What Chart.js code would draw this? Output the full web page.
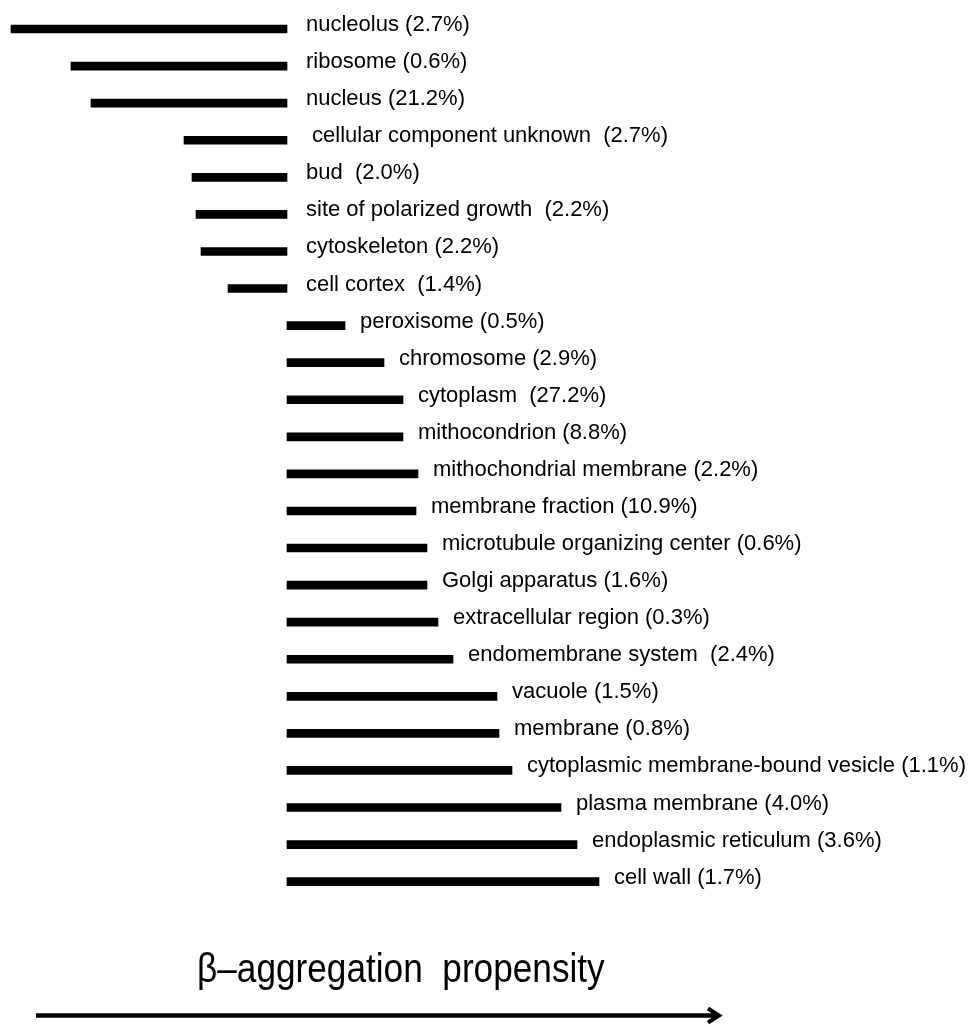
<!DOCTYPE html>
<html>
<head>
<meta charset="utf-8">
<script src="https://cdn.jsdelivr.net/npm/chart.js@4.4.1/dist/chart.umd.min.js"></script>
<style>
  html, body { margin: 0; padding: 0; background: #fff; }
  #wrap { width: 976px; height: 1025px; position: relative; }
</style>
</head>
<body>
<div id="wrap"><canvas id="chart"></canvas></div>
<script>
// cellular compartments (trailing space = wider gap before the share, as in the figure)
const compartments = [
  "nucleolus", "ribosome", "nucleus", " cellular component unknown ", "bud ",
  "site of polarized growth ", "cytoskeleton", "cell cortex ", "peroxisome", "chromosome",
  "cytoplasm ", "mithocondrion", "mithochondrial membrane", "membrane fraction",
  "microtubule organizing center", "Golgi apparatus", "extracellular region",
  "endomembrane system ", "vacuole", "membrane", "cytoplasmic membrane-bound vesicle",
  "plasma membrane", "endoplasmic reticulum", "cell wall"
];

// share of proteins in each compartment (%)
const shares = [
  2.7, 0.6, 21.2, 2.7, 2.0, 2.2, 2.2, 1.4, 0.5, 2.9, 27.2, 8.8,
  2.2, 10.9, 0.6, 1.6, 0.3, 2.4, 1.5, 0.8, 1.1, 4.0, 3.6, 1.7
];

// relative beta-aggregation propensity (arbitrary units, 0 = average)
const propensity = [
  -2.76, -2.16, -1.96, -1.03, -0.95, -0.91, -0.86, -0.59, 0.58, 0.97, 1.16, 1.16,
  1.31, 1.29, 1.40, 1.40, 1.51, 1.66, 2.10, 2.12, 2.25, 2.74, 2.90, 3.12
];

const axisTitle = "\u03B2\u2013aggregation  propensity";

const labels = compartments.map((c, i) => c + " (" + shares[i].toFixed(1) + "%)");

// labels next to each bar + the axis title and arrow underneath
const decorations = {
  id: "decorations",
  afterDatasetsDraw(chart) {
    const ctx = chart.ctx;
    const meta = chart.getDatasetMeta(0);
    ctx.save();
    ctx.fillStyle = "#000";
    ctx.font = '22px "Liberation Sans", Arial, Helvetica, sans-serif';
    ctx.textAlign = "left";
    ctx.textBaseline = "alphabetic";
    meta.data.forEach((bar, i) => {
      const right = Math.max(bar.x, bar.base);
      const x = bar.x > bar.base ? right + 15 : right + 19;
      ctx.fillText(labels[i], x, bar.y + 2);
    });

    // axis title (condensed)
    ctx.save();
    ctx.translate(197, 982);
    ctx.scale(0.88, 1);
    ctx.font = '40px "Liberation Sans", Arial, Helvetica, sans-serif';
    ctx.fillText(axisTitle, 0, 0);
    ctx.restore();

    // arrow
    ctx.strokeStyle = "#000";
    ctx.lineWidth = 4.5;
    ctx.beginPath();
    ctx.moveTo(36, 1015.5);
    ctx.lineTo(716, 1015.5);
    ctx.stroke();
    ctx.lineWidth = 4;
    ctx.lineJoin = "miter";
    ctx.beginPath();
    ctx.moveTo(708, 1008.5);
    ctx.lineTo(719, 1015.5);
    ctx.lineTo(708, 1022.5);
    ctx.stroke();
    ctx.restore();
  }
};

new Chart(document.getElementById("chart"), {
  type: "bar",
  data: {
    labels: compartments,
    datasets: [{
      data: propensity.map(v => [0, v]),
      backgroundColor: "#000",
      borderWidth: 0,
      barThickness: 8
    }]
  },
  options: {
    indexAxis: "y",
    responsive: true,
    maintainAspectRatio: false,
    animation: false,
    layout: { padding: { top: 10.5, bottom: 124.8, left: 0, right: 0 } },
    plugins: {
      legend: { display: false },
      tooltip: { enabled: false }
    },
    scales: {
      x: { type: "linear", min: -2.87, max: 6.89, display: false },
      y: { display: false }
    }
  },
  plugins: [decorations]
});
</script>
</body>
</html>
